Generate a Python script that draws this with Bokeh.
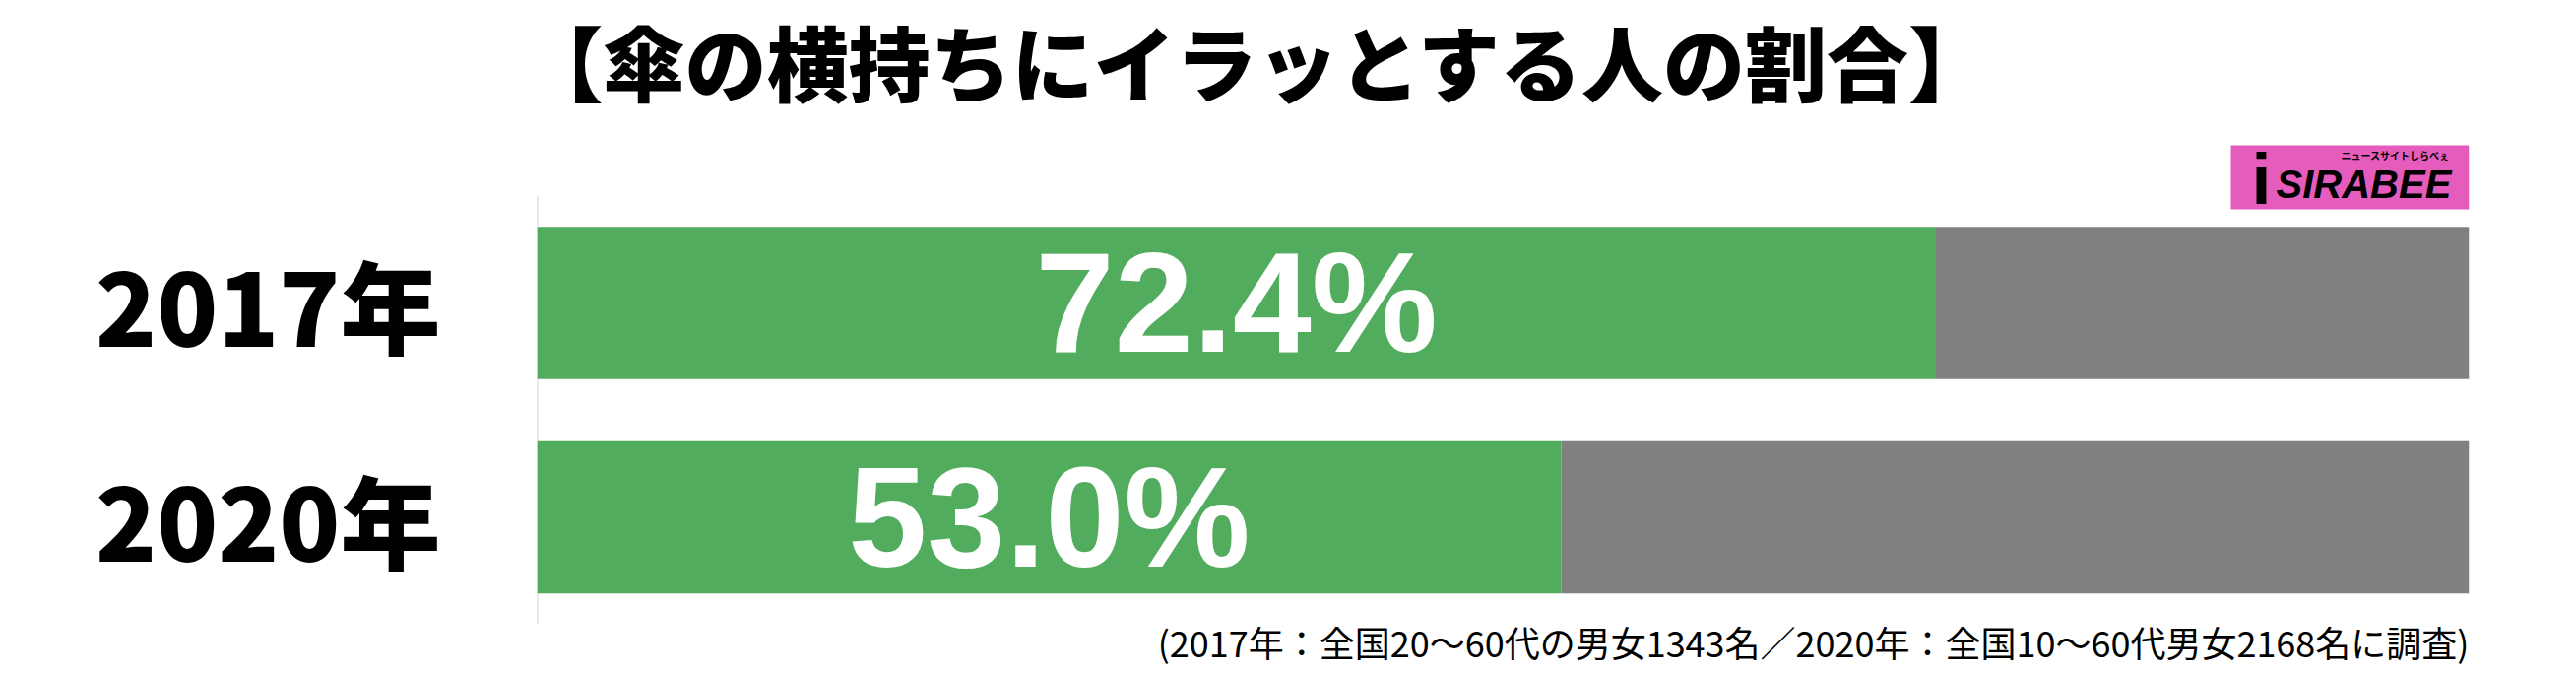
from bokeh.plotting import figure
from bokeh.models import Range1d, Label, ColumnDataSource, FixedTicker, BoxAnnotation
from bokeh.embed import file_html
from bokeh.resources import INLINE
from bokeh.core.properties import value

# ---- data ----
years = ["2017年", "2020年"]
pct = [72.4, 53.0]
pct_labels = ["72.4%", "53.0%"]
total = [100, 100]
title_text = "【傘の横持ちにイラッとする人の割合】"
note_text = "(2017年：全国20～60代の男女1343名／2020年：全国10～60代男女2168名に調査)"
logo_main = "SIRABEE"
logo_sub = "ニュースサイトしらべぇ"

GREEN = "#52ac5e"
GRAY = "#808080"
PINK = "#e65cbd"
HEAVY = "Noto Sans CJK JP Black"

n = len(years)
ypos = [n - 1 - i for i in range(n)]  # first category on top

src = ColumnDataSource(dict(
    y=ypos,
    pct=pct,
    total=total,
    mid=[v / 2 for v in pct],
    lab=pct_labels,
))

p = figure(
    width=2616, height=684,
    y_range=Range1d(-0.7333, n - 1 + 1.4115),
    x_range=Range1d(0, 100),
    output_backend="svg", toolbar_location=None,
    min_border_left=545, min_border_right=109,
    min_border_top=0, min_border_bottom=0,
)
p.outline_line_color = None
p.background_fill_color = "white"
p.border_fill_color = "white"
p.xgrid.visible = False
p.ygrid.visible = False
p.xaxis.visible = False

ax = p.yaxis[0]
ax.ticker = FixedTicker(ticks=ypos)
ax.major_label_overrides = {yy: lab for yy, lab in zip(ypos, years)}
ax.axis_line_color = None
ax.major_tick_line_color = None
ax.minor_tick_line_color = None
ax.major_tick_out = 0
ax.major_tick_in = 0
ax.major_label_standoff = 98
ax.major_label_text_font = HEAVY
ax.major_label_text_font_style = "bold"
ax.major_label_text_font_size = "102px"
ax.major_label_text_color = "black"

# light vertical baseline spanning the category bands
p.segment(x0=0, x1=0, y0=min(ypos) - 0.5, y1=max(ypos) + 0.5,
          line_color="#d6d6d6", line_width=2)

p.hbar(y="y", left=0, right="pct", height=0.71, source=src,
       fill_color=GREEN, line_color=None)
p.hbar(y="y", left="pct", right="total", height=0.71, source=src,
       fill_color=GRAY, line_color=None)

p.text(x="mid", y="y", text="lab", source=src,
       text_font=value("Liberation Sans"), text_font_style="bold",
       text_font_size="144px", text_color="white",
       text_align="center", text_baseline="middle")

# frame: left=545, bottom=684 -> screen units relative to frame, y upward
p.add_layout(Label(x=731, y=624, x_units="screen", y_units="screen",
                   text=title_text, text_font=HEAVY,
                   text_font_style="bold", text_font_size="83px",
                   text_color="black", text_align="center",
                   text_baseline="middle"))

p.add_layout(Label(x=1962, y=34, x_units="screen", y_units="screen",
                   text=note_text, text_font="Noto Sans CJK JP",
                   text_font_size="36px", text_color="black",
                   text_align="right", text_baseline="middle"))

# logo
p.add_layout(BoxAnnotation(left=1720, right=1962, bottom=472, top=537,
                           left_units="screen", right_units="screen",
                           bottom_units="screen", top_units="screen",
                           fill_color=PINK, fill_alpha=1.0, line_color=None))

p.add_layout(Label(x=1766, y=498, x_units="screen", y_units="screen",
                   text=logo_main, text_font="Liberation Sans",
                   text_font_style="bold italic", text_font_size="40px",
                   text_color="black", text_align="left",
                   text_baseline="alphabetic"))

p.add_layout(Label(x=1942, y=527, x_units="screen", y_units="screen",
                   text=logo_sub, text_font="Noto Sans CJK JP",
                   text_font_style="bold", text_font_size="10px",
                   text_color="black", text_align="right",
                   text_baseline="alphabetic"))

p.add_layout(Label(x=1751, y=503, x_units="screen", y_units="screen",
                   text="i", text_font="Liberation Sans",
                   text_font_style="bold", text_font_size="72px",
                   text_color="black", text_align="center",
                   text_baseline="alphabetic"))

open("out.html", "w").write(file_html(p, INLINE))
